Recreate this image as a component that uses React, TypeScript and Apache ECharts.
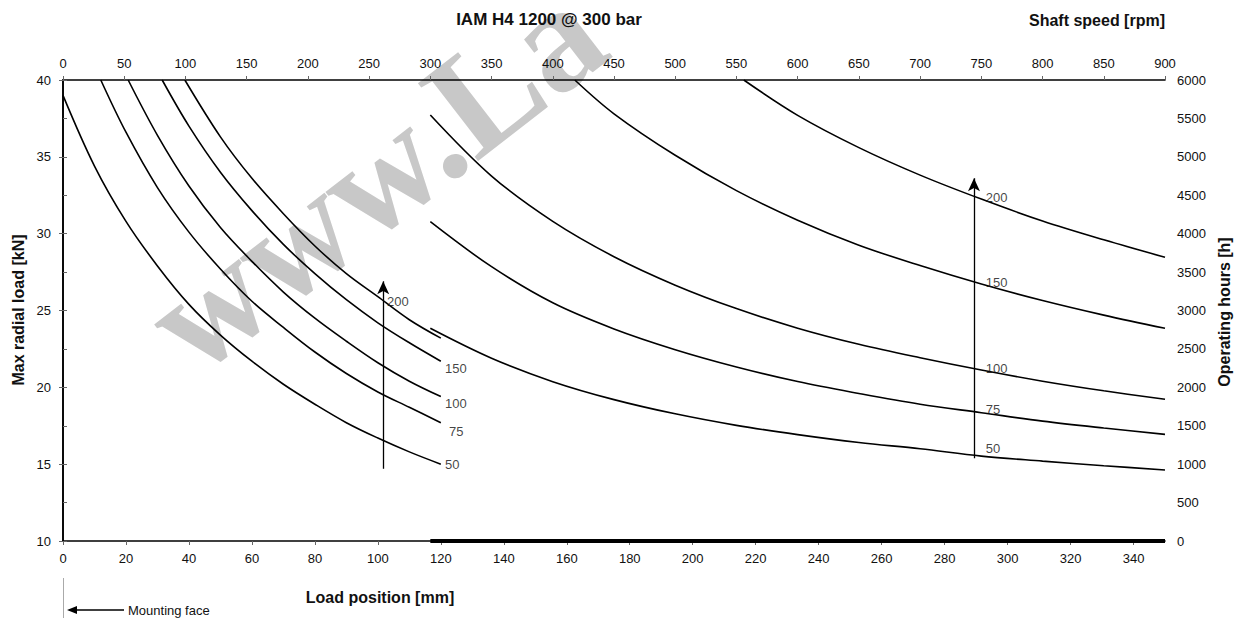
import React, { useEffect, useRef } from "react";
import * as echarts from "echarts";

const FONT = "'Liberation Sans', Arial, Helvetica, sans-serif";

// ---- Left panel: load position [mm] (bottom axis) vs max radial load [kN] (left axis)
const left50X = [0, 10, 20, 30, 40, 50, 60, 70, 80, 90, 100, 110, 120];
const left50Y = [39.0, 34.4, 30.8, 27.9, 25.4, 23.4, 21.7, 20.2, 18.9, 17.7, 16.7, 15.8, 15.0];
const left75X = [12, 20, 30, 40, 50, 60, 70, 80, 90, 100, 110, 120];
const left75Y = [40.0, 36.6, 33.0, 30.1, 27.7, 25.6, 23.9, 22.3, 20.9, 19.7, 18.7, 17.7];
const left100X = [20.7, 30, 40, 50, 60, 70, 80, 90, 100, 110, 120];
const left100Y = [40.0, 36.4, 33.1, 30.4, 28.2, 26.2, 24.5, 23.0, 21.6, 20.4, 19.4];
const left150X = [31.5, 40, 50, 60, 70, 80, 90, 100, 110, 120];
const left150Y = [40.0, 37.0, 34.0, 31.5, 29.3, 27.4, 25.7, 24.2, 22.9, 21.7];
const left200X = [38.7, 50, 60, 70, 80, 90, 100, 110, 120];
const left200Y = [40.0, 36.3, 33.6, 31.3, 29.2, 27.4, 25.9, 24.4, 23.2];

// ---- Right panel: shaft speed [rpm] (top axis) vs operating hours [h] (right axis)
const rpmX = [300, 350, 400, 450, 500, 550, 600, 650, 700, 750, 800, 850, 900];
const right50Y = [2768, 2378, 2074, 1840, 1655, 1505, 1385, 1282, 1200, 1105, 1040, 980, 924];
const right75Y = [4156, 3570, 3100, 2760, 2490, 2265, 2075, 1920, 1780, 1670, 1560, 1470, 1388];
const right100Y = [5545, 4750, 4160, 3700, 3330, 3025, 2770, 2560, 2385, 2225, 2080, 1955, 1844];
const right150X = [418, 450, 500, 550, 600, 650, 700, 750, 800, 850, 900];
const right150Y = [6000, 5560, 5020, 4560, 4175, 3850, 3585, 3345, 3130, 2940, 2768];
const right200X = [556, 600, 650, 700, 750, 800, 850, 900];
const right200Y = [6000, 5540, 5120, 4762, 4450, 4165, 3920, 3692];

// baseline segment of the right panel (rpm, hours)
const rightBaseX = [300, 900];
const rightBaseY = [0, 0];

// curve labels
const leftLabelText = ["200", "150", "100", "75", "50"];
const leftLabelX = [102.9, 121.3, 121.3, 122.6, 121.3];
const leftLabelY = [25.6, 21.2, 18.95, 17.1, 14.95];
const rightLabelText = ["200", "150", "100", "75", "50"];
const rightLabelX = [753.6, 753.6, 753.6, 753.6, 753.6];
const rightLabelY = [4468, 3362, 2248, 1705, 1207];

// arrows [x, from, to]
const leftArrow = [101.7, 14.7, 26.9];
const rightArrow = [744, 1076, 4721];

// axes
const mmMin = 0, mmMax = 350, mmStep = 20;
const rpmMin = 0, rpmMax = 900, rpmStep = 50;
const kNMin = 10, kNMax = 40, kNStep = 5;
const hMin = 0, hMax = 6000, hStep = 500;

const zip = (xs: number[], ys: number[]) => xs.map((x, i) => [x, ys[i]]);

const curve = (name: string, xs: number[], ys: number[], xi: number, yi: number) => ({
  type: "line",
  name,
  xAxisIndex: xi,
  yAxisIndex: yi,
  data: zip(xs, ys),
  showSymbol: false,
  symbol: "none",
  smooth: 0.35,
  silent: true,
  lineStyle: { color: "#000", width: 1.6 },
  z: 3,
});

const labelSeries = (xs: number[], ys: number[], texts: string[], xi: number, yi: number, arrow: number[]) => ({
  type: "scatter",
  xAxisIndex: xi,
  yAxisIndex: yi,
  symbolSize: 0,
  silent: true,
  z: 4,
  data: xs.map((x, i) => ({ value: [x, ys[i]], name: texts[i] })),
  label: {
    show: true,
    position: "right",
    distance: 0,
    formatter: (p: any) => p.name,
    color: "#111",
    fontSize: 13,
    fontFamily: FONT,
  },
  markLine: {
    silent: true,
    symbol: ["none", "arrow"],
    symbolSize: [9, 13],
    label: { show: false },
    lineStyle: { color: "#000", width: 1.3, type: "solid" },
    data: [[{ coord: [arrow[0], arrow[1]] }, { coord: [arrow[0], arrow[2]] }]],
  },
});

const axisCommon = {
  axisLine: { show: true, lineStyle: { color: "#000", width: 1.6 } },
  axisTick: { show: true, inside: false, length: 4, lineStyle: { color: "#666", width: 1 } },
  splitLine: { show: false },
};

const plain = (v: number) => String(v);
const labelStyle = { color: "#111", fontSize: 13, fontFamily: FONT, formatter: plain };

export default function App() {
  const ref = useRef<HTMLDivElement>(null);

  useEffect(() => {
    if (!ref.current) return;
    const chart = echarts.init(ref.current, null, { renderer: "svg" });
    const option: any = {
      animation: false,
      backgroundColor: "#fff",
      grid: { left: 63, right: 74, top: 80, bottom: 77, containLabel: false },
      xAxis: [
        {
          type: "value",
          position: "bottom",
          min: mmMin,
          max: mmMax,
          interval: mmStep,
          ...axisCommon,
          axisLabel: { ...labelStyle, margin: 11, showMaxLabel: false },
        },
        {
          type: "value",
          position: "top",
          min: rpmMin,
          max: rpmMax,
          interval: rpmStep,
          ...axisCommon,
          axisLabel: { ...labelStyle, margin: 10 },
        },
      ],
      yAxis: [
        {
          type: "value",
          position: "left",
          min: kNMin,
          max: kNMax,
          interval: kNStep,
          ...axisCommon,
          axisLabel: { ...labelStyle, margin: 12 },
        },
        {
          type: "value",
          position: "right",
          min: hMin,
          max: hMax,
          interval: hStep,
          ...axisCommon,
          axisLabel: { ...labelStyle, margin: 12 },
        },
      ],
      series: [
        curve("L50", left50X, left50Y, 0, 0),
        curve("L75", left75X, left75Y, 0, 0),
        curve("L100", left100X, left100Y, 0, 0),
        curve("L150", left150X, left150Y, 0, 0),
        curve("L200", left200X, left200Y, 0, 0),
        curve("R50", rpmX, right50Y, 1, 1),
        curve("R75", rpmX, right75Y, 1, 1),
        curve("R100", rpmX, right100Y, 1, 1),
        curve("R150", right150X, right150Y, 1, 1),
        curve("R200", right200X, right200Y, 1, 1),
        {
          ...curve("base", rightBaseX, rightBaseY, 1, 1),
          smooth: false,
          clip: false,
          lineStyle: { color: "#000", width: 4 },
        },
        labelSeries(leftLabelX, leftLabelY, leftLabelText, 0, 0, leftArrow),
        labelSeries(rightLabelX, rightLabelY, rightLabelText, 1, 1, rightArrow),
      ],
      graphic: {
        elements: [
          {
            type: "text",
            x: 374,
            y: 177,
            rotation: (37.7 * Math.PI) / 180,
            z: 0,
            silent: true,
            style: {
              text: "www.La",
              fontFamily: "'Liberation Serif', 'DejaVu Serif', serif",
              fontWeight: "bold",
              fontSize: 150,
              fill: "#c8c8c8",
              align: "center",
              verticalAlign: "middle",
              textAlign: "center",
              textVerticalAlign: "middle",
            },
          },
          {
            type: "text",
            x: 549,
            y: 19,
            z: 10,
            style: {
              text: "IAM H4 1200 @ 300 bar",
              fontFamily: FONT,
              fontWeight: "bold",
              fontSize: 17,
              fill: "#111",
              align: "center",
              verticalAlign: "middle",
              textAlign: "center",
              textVerticalAlign: "middle",
            },
          },
          {
            type: "text",
            x: 1165,
            y: 20,
            z: 10,
            style: {
              text: "Shaft speed [rpm]",
              fontFamily: FONT,
              fontWeight: "bold",
              fontSize: 16,
              fill: "#111",
              align: "right",
              verticalAlign: "middle",
              textAlign: "right",
              textVerticalAlign: "middle",
            },
          },
          {
            type: "text",
            x: 380,
            y: 597,
            z: 10,
            style: {
              text: "Load position [mm]",
              fontFamily: FONT,
              fontWeight: "bold",
              fontSize: 16,
              fill: "#111",
              align: "center",
              verticalAlign: "middle",
              textAlign: "center",
              textVerticalAlign: "middle",
            },
          },
          {
            type: "text",
            x: 18,
            y: 310,
            rotation: Math.PI / 2,
            z: 10,
            style: {
              text: "Max radial load [kN]",
              fontFamily: FONT,
              fontWeight: "bold",
              fontSize: 16,
              fill: "#111",
              align: "center",
              verticalAlign: "middle",
              textAlign: "center",
              textVerticalAlign: "middle",
            },
          },
          {
            type: "text",
            x: 1224,
            y: 312,
            rotation: Math.PI / 2,
            z: 10,
            style: {
              text: "Operating hours [h]",
              fontFamily: FONT,
              fontWeight: "bold",
              fontSize: 16,
              fill: "#111",
              align: "center",
              verticalAlign: "middle",
              textAlign: "center",
              textVerticalAlign: "middle",
            },
          },
          {
            type: "line",
            z: 10,
            shape: { x1: 63.5, y1: 578, x2: 63.5, y2: 618 },
            style: { stroke: "#aaa", lineWidth: 1 },
          },
          {
            type: "line",
            z: 10,
            shape: { x1: 74, y1: 610, x2: 124, y2: 610 },
            style: { stroke: "#000", lineWidth: 1.3 },
          },
          {
            type: "polygon",
            z: 10,
            shape: { points: [[67, 610], [77, 606], [77, 614]] },
            style: { fill: "#000" },
          },
          {
            type: "text",
            x: 128,
            y: 610,
            z: 10,
            style: {
              text: "Mounting face",
              fontFamily: FONT,
              fontSize: 13,
              fill: "#111",
              align: "left",
              verticalAlign: "middle",
              textAlign: "left",
              textVerticalAlign: "middle",
            },
          },
        ],
      },
    };
    chart.setOption(option);
    return () => {
      chart.dispose();
    };
  }, []);

  return (
    <div
      ref={ref}
      style={{ position: "fixed", left: 0, top: 0, width: 1239, height: 618, background: "#fff" }}
    />
  );
}
